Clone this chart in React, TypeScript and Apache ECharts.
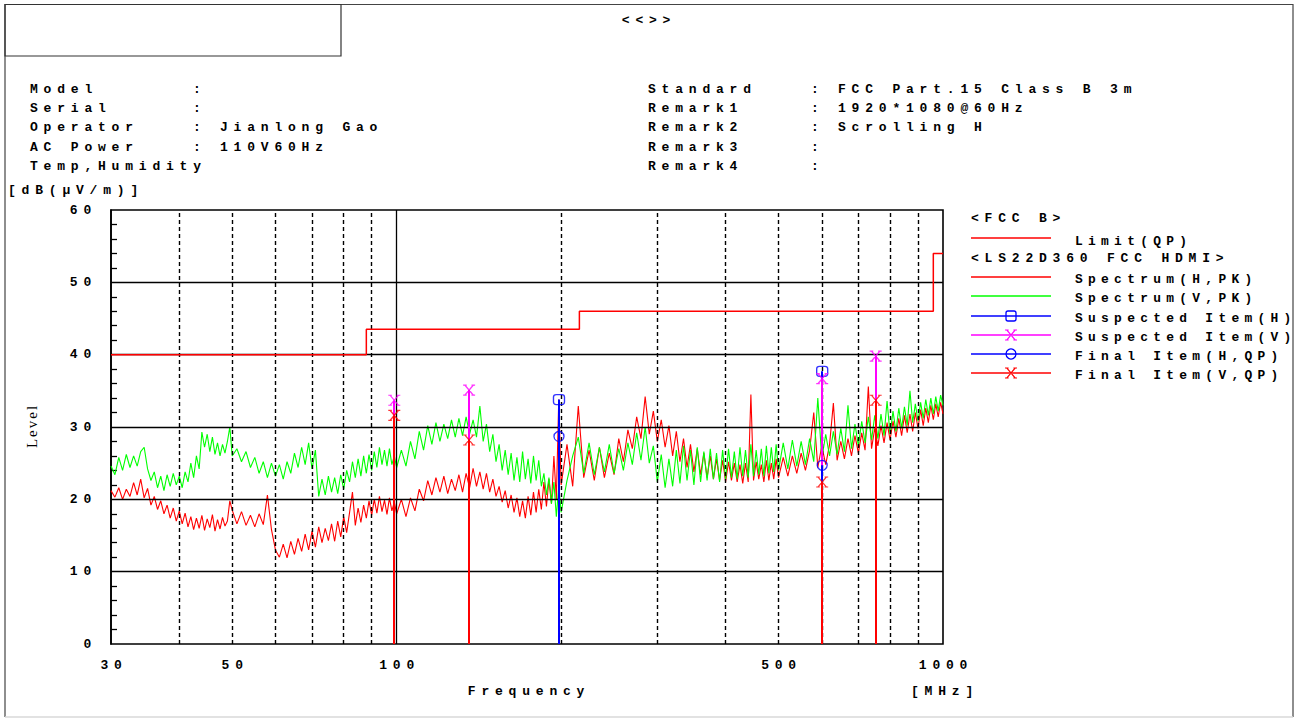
import { useEffect, useRef } from "react";
import * as echarts from "echarts";

// ---------------- data ----------------
const freqs = [
  30, 30.5, 31, 31.5, 32, 32.5, 33, 33.5, 34, 34.5,
  35, 35.5, 36, 36.5, 37, 37.5, 38, 38.5, 39, 39.5,
  40, 40.5, 41, 41.5, 42, 42.5, 43, 43.5, 44, 44.5,
  45, 45.5, 46, 46.5, 47, 47.5, 48, 48.5, 49, 49.5,
  50, 51, 52, 53, 54, 55, 56, 57, 58, 59,
  60, 61, 62, 63, 64, 65, 66, 67, 68, 69,
  70, 71, 72, 73, 74, 75, 76, 77, 78, 79,
  80, 81, 82, 83, 84, 85, 86, 87, 88, 89,
  90, 91, 92, 93, 94, 95, 96, 97, 98, 99,
  100, 102, 104, 106, 108, 110, 112, 114, 116, 118,
  120, 122, 124, 126, 128, 130, 132, 134, 136, 138,
  140, 142, 144, 146, 148, 150, 152, 154, 156, 158,
  160, 162, 164, 166, 168, 170, 172, 174, 176, 178,
  180, 182, 184, 186, 188, 190, 192, 194, 196, 198,
  200, 205, 210, 215, 220, 225, 230, 235, 240, 245,
  250, 255, 260, 265, 270, 275, 280, 285, 290, 295,
  300, 305, 310, 315, 320, 325, 330, 335, 340, 345,
  350, 355, 360, 365, 370, 375, 380, 385, 390, 395,
  400, 405, 410, 415, 420, 425, 430, 435, 440, 445,
  450, 455, 460, 465, 470, 475, 480, 485, 490, 495,
  500, 510, 520, 530, 540, 550, 560, 570, 580, 590,
  600, 610, 620, 630, 640, 650, 660, 670, 680, 690,
  700, 710, 720, 730, 740, 750, 760, 770, 780, 790,
  800, 810, 820, 830, 840, 850, 860, 870, 880, 890,
  900, 910, 920, 930, 940, 950, 960, 970, 980, 990,
  1000,
];

// Spectrum (H, PK) – red
const spectrumH = [
  21.2, 20.3, 21.6, 20.0, 21.4, 20.4, 22.3, 20.6, 22.8, 20.2,
  21.5, 19.2, 20.4, 18.6, 19.8, 18.0, 19.2, 17.4, 18.8, 17.0,
  18.4, 16.6, 18.1, 16.2, 17.6, 15.8, 17.4, 16.0, 17.8, 15.7,
  17.3, 16.1, 17.9, 15.6, 17.2, 15.9, 17.5, 16.3, 17.0, 19.8,
  18.5, 16.6, 18.3, 16.4, 17.8, 16.2, 18.0, 16.5, 20.6, 15.8,
  13.0, 12.0, 13.8, 11.9, 14.2, 12.4, 14.6, 12.8, 15.2, 13.0,
  15.6, 13.4, 16.2, 14.0, 16.0, 14.3, 16.6, 14.2, 17.0, 14.8,
  17.6, 15.4, 18.2, 21.0, 16.4, 18.8, 16.8, 19.2, 17.4, 19.8,
  17.8, 20.0, 18.1, 20.4, 18.3, 19.9, 17.9, 20.2, 18.4, 19.6,
  18.0, 20.0, 17.6, 20.2, 18.4, 21.4, 19.8, 22.6, 20.6, 23.0,
  21.0, 23.2, 20.8, 22.8, 21.2, 23.4, 21.0, 23.6, 21.6, 24.3,
  21.8, 23.8, 21.4, 23.6, 21.0, 22.8, 20.4, 21.8, 19.6, 21.2,
  18.8, 20.6, 18.2, 20.2, 17.6, 19.8, 17.4, 20.4, 17.8, 21.0,
  18.2, 21.4, 18.6, 22.4, 19.0, 22.8, 19.4, 26.0, 20.0, 33.8,
  22.0, 27.6, 21.8, 32.9, 23.0, 26.8, 22.6, 27.2, 23.0, 26.4,
  23.4, 28.4, 25.2, 29.6, 27.0, 31.4, 28.4, 34.2, 29.0, 32.2,
  28.0, 31.0, 27.2, 30.2, 26.0, 29.4, 25.2, 28.4, 24.4, 27.6,
  23.8, 27.0, 23.4, 26.4, 23.0, 26.0, 22.8, 25.6, 22.6, 25.4,
  22.4, 25.2, 22.6, 25.0, 22.4, 24.8, 22.2, 25.0, 22.4, 34.5,
  22.6, 25.2, 22.8, 24.8, 22.4, 25.4, 22.6, 25.0, 22.8, 25.6,
  23.0, 25.8, 23.2, 26.0, 23.6, 26.4, 24.0, 26.8, 32.0, 24.4,
  27.4, 24.8, 27.6, 33.3, 25.4, 28.0, 25.6, 28.4, 26.0, 28.8,
  26.4, 29.2, 26.8, 35.6, 27.0, 29.8, 27.4, 30.2, 27.8, 30.6,
  28.2, 30.8, 28.6, 31.2, 28.8, 31.6, 29.2, 31.8, 29.4, 32.0,
  29.8, 32.4, 30.2, 32.6, 30.6, 33.0, 31.0, 33.2, 31.4, 33.4,
  31.8,
];

// Spectrum (V, PK) – green
const spectrumV = [
  24.6, 23.4, 25.8, 24.0, 26.2, 24.4, 26.0, 24.6, 26.6, 27.2,
  24.2, 22.6, 23.8, 21.6, 23.2, 21.2, 23.4, 21.8, 23.6, 22.0,
  23.2, 21.6, 23.8, 22.4, 25.0, 23.0, 26.0, 24.2, 29.3, 27.2,
  29.0, 26.6, 28.6, 26.2, 27.8, 26.0, 27.6, 26.4, 28.0, 30.0,
  26.0, 27.0, 25.2, 26.6, 24.4, 25.8, 23.6, 25.2, 23.0, 25.0,
  23.2, 24.8, 22.8, 25.2, 23.6, 26.4, 24.4, 27.2, 24.8, 27.8,
  24.2, 26.8, 20.4, 22.8, 20.6, 23.2, 21.0, 23.0, 20.8, 23.4,
  21.4, 24.0, 22.4, 25.2, 23.0, 25.6, 23.2, 26.0, 23.6, 26.2,
  24.0, 26.6, 24.4, 27.2, 24.8, 26.8, 24.6, 27.0, 24.8, 26.0,
  24.4, 26.8, 24.6, 28.0, 25.6, 29.4, 26.8, 30.2, 27.6, 30.6,
  28.0, 30.4, 28.4, 31.0, 28.6, 31.2, 28.8, 31.4, 29.0, 31.0,
  28.6, 32.9, 28.0, 30.4, 26.6, 29.0, 25.2, 27.6, 24.0, 26.8,
  23.4, 26.4, 22.6, 25.8, 22.4, 26.6, 22.8, 25.6, 22.2, 26.0,
  22.6, 25.4, 21.8, 23.6, 20.6, 23.0, 19.4, 22.4, 17.6, 21.8,
  18.2, 22.6, 26.0, 28.6, 23.6, 27.8, 23.4, 27.2, 23.8, 27.6,
  23.6, 27.0, 24.0, 27.8, 24.8, 29.2, 25.4, 30.0, 25.0, 27.4,
  22.4, 26.2, 21.6, 25.6, 21.8, 26.8, 22.2, 27.4, 22.6, 26.8,
  22.0, 27.2, 22.4, 26.6, 22.6, 27.0, 22.8, 26.4, 22.4, 26.8,
  22.8, 27.0, 23.0, 26.6, 22.8, 27.2, 23.2, 26.8, 23.0, 27.6,
  23.2, 26.8, 23.4, 27.0, 23.2, 27.4, 23.6, 27.2, 23.8, 27.6,
  24.0, 27.8, 24.2, 28.2, 24.6, 28.0, 24.8, 28.4, 25.2, 34.0,
  25.6, 29.0, 26.0, 29.4, 26.2, 29.8, 26.6, 33.0, 27.0, 30.4,
  27.4, 30.8, 27.8, 31.4, 28.2, 31.6, 28.4, 31.8, 28.8, 33.6,
  29.0, 32.2, 29.4, 32.6, 29.8, 32.8, 30.2, 35.0, 30.6, 33.2,
  30.8, 33.4, 31.2, 33.8, 31.6, 34.0, 31.8, 34.2, 32.2, 34.4,
  33.0,
];

// FCC Class B limit (QP) segments
const limitStart = [30, 88, 216, 960];
const limitEnd = [88, 216, 960, 1000];
const limitLevel = [40, 43.5, 46, 54];

// items [MHz, dB(uV/m)]
const suspectedH = [[198.2, 33.8], [601, 37.7]];
const suspectedV = [[99, 33.7], [135.7, 35.1], [601, 36.7], [753, 39.8]];
const finalH = [[198.2, 28.7], [601, 24.7]];
const finalV = [[99, 31.6], [135.7, 28.2], [601, 22.4], [753, 33.7]];

// axes
const xTickValues = [30, 50, 100, 500, 1000];
const xDashedGrid = [40, 50, 60, 70, 80, 90, 200, 300, 400, 500, 600, 700, 800, 900];
const xSolidGrid = [100];
const yGrid = [10, 20, 30, 40, 50];

// header info
const infoLeft = [
  ["Model", ""],
  ["Serial", ""],
  ["Operator", "Jianlong Gao"],
  ["AC Power", "110V60Hz"],
];
const infoLeftLast = "Temp,Humidity";
const infoRight = [
  ["Standard", "FCC Part.15 Class B 3m"],
  ["Remark1", "1920*1080@60Hz"],
  ["Remark2", "Scrolling H"],
  ["Remark3", ""],
  ["Remark4", ""],
];

// ---------------- styling ----------------
const FONT = '"Liberation Mono", "DejaVu Sans Mono", monospace';
const RED = "#ff0000";
const GREEN = "#00ff00";
const BLUE = "#0000ff";
const MAGENTA = "#ff00ff";
const XPATH = "M0,0H3M7,0H10M0,10H3M7,10H10M1.5,0L8.5,10M8.5,0L1.5,10";
let registered = false;

function txt(text: string, x: number, y: number, align = "left", extra: any = {}) {
  return {
    type: "text",
    silent: true,
    z: 50,
    style: {
      text,
      x,
      y,
      fontFamily: FONT,
      fontWeight: "bold",
      fontSize: 13,
      fill: "#000",
      align,
      textAlign: align,
      verticalAlign: "middle",
      textVerticalAlign: "middle",
      ...extra,
    },
  };
}

export default function App() {
  const ref = useRef<HTMLDivElement>(null);

  useEffect(() => {
    if (!registered) {
      echarts.graphic.registerShape("xmark", echarts.graphic.extendPath(XPATH, {}) as any);
      registered = true;
    }
    const chart = echarts.init(ref.current!, null, { renderer: "svg", width: 1300, height: 720 });

    const limitData: number[][] = [];
    limitStart.forEach((s, i) => {
      limitData.push([s, limitLevel[i]], [limitEnd[i], limitLevel[i]]);
    });
    const hData = freqs.map((f, i) => [f, spectrumH[i]]);
    const vData = freqs.map((f, i) => [f, spectrumV[i]]);

    const dropSeries = (items: number[][], color: string, z: number) => ({
      type: "custom",
      silent: true,
      z,
      data: items,
      encode: { x: 0, y: 1 },
      renderItem: (_p: any, api: any) => {
        const top = api.coord([api.value(0), api.value(1)]);
        const bottom = api.coord([api.value(0), 0]);
        const x = Math.round(top[0]);
        return {
          type: "line",
          shape: { x1: x, y1: top[1], x2: x, y2: bottom[1] },
          style: { stroke: color, lineWidth: 2 },
        };
      },
    });

    const markerSeries = (name: string, items: number[][], color: string, symbol: string, size: any, z: number) => ({
      type: "scatter",
      name,
      data: items,
      symbol,
      symbolSize: size,
      z,
      silent: true,
      itemStyle: { color: "transparent", borderColor: color, borderWidth: 1.3 },
    });

    const option: any = {
      animation: false,
      backgroundColor: "#fff",
      grid: {
        left: 111,
        top: 210,
        width: 832,
        height: 434,
        show: true,
        borderColor: "#000",
        borderWidth: 1.6,
        backgroundColor: "transparent",
      },
      xAxis: {
        type: "log",
        logBase: 10,
        min: 30,
        max: 1000,
        axisLine: { show: false },
        axisTick: { show: false },
        axisLabel: { show: false },
        splitLine: { show: false },
      },
      yAxis: {
        type: "value",
        min: 0,
        max: 60,
        interval: 10,
        axisLine: { show: true, lineStyle: { color: "#000", width: 1.6 } },
        axisTick: { show: false, inside: true },
        minorTick: { show: true, splitNumber: 5, length: 6, lineStyle: { color: "#000", width: 1.3 } },
        axisLabel: { fontFamily: FONT, fontWeight: "bold", fontSize: 13, color: "#000", margin: 14 },
        splitLine: { show: false },
      },
      series: [
        {
          type: "line",
          name: "Limit(QP)",
          data: limitData,
          symbol: "none",
          silent: true,
          z: 5,
          lineStyle: { color: RED, width: 1.5 },
          markLine: {
            silent: true,
            z: 4,
            symbol: ["none", "none"],
            label: { show: false },
            data: [
              ...xDashedGrid.map((v) => ({ xAxis: v, lineStyle: { color: "#000", width: 1.4, type: [4, 3] } })),
              ...xSolidGrid.map((v) => ({ xAxis: v, lineStyle: { color: "#000", width: 1.3, type: "solid" } })),
              ...yGrid.map((v) => ({ yAxis: v, lineStyle: { color: "#000", width: 1.3, type: "solid" } })),
            ],
          },
        },
        {
          type: "line",
          name: "Spectrum(H,PK)",
          data: hData,
          symbol: "none",
          silent: true,
          z: 2,
          lineStyle: { color: RED, width: 1.1 },
        },
        {
          type: "line",
          name: "Spectrum(V,PK)",
          data: vData,
          symbol: "none",
          silent: true,
          z: 2,
          lineStyle: { color: GREEN, width: 1.1 },
        },
        dropSeries(suspectedH, BLUE, 6),
        dropSeries(suspectedV, MAGENTA, 7),
        dropSeries(finalH, BLUE, 8),
        dropSeries(finalV, RED, 9),
        markerSeries("Suspected Item(H)", suspectedH, BLUE, "roundRect", [11, 10], 12),
        markerSeries("Suspected Item(V)", suspectedV, MAGENTA, "path://" + XPATH, [12, 10], 13),
        markerSeries("Final Item(H,QP)", finalH, BLUE, "circle", 10, 14),
        markerSeries("Final Item(V,QP)", finalV, RED, "path://" + XPATH, [12, 10], 15),
      ],
    };
    chart.setOption(option);

    const g: any[] = [];
    // page frame
    g.push({
      type: "polyline",
      silent: true,
      shape: { points: [[5, 717], [5, 4.5], [1293, 4.5], [1293, 717]] },
      style: { stroke: "#444", lineWidth: 1.2, fill: "none" },
    });
    g.push({ type: "line", silent: true, shape: { x1: 5, y1: 717, x2: 1293, y2: 717 }, style: { stroke: "#d8d8d8", lineWidth: 1.5 } });
    g.push({ type: "rect", silent: true, shape: { x: 5, y: 4.5, width: 336, height: 51.5 }, style: { stroke: "#333", lineWidth: 1.2, fill: "none" } });
    g.push(txt("<<>>", 649, 20, "center"));

    // header info
    const rowY = [89, 108, 127, 147, 166];
    infoLeft.forEach(([k, v], i) => {
      g.push(txt(k, 30, rowY[i]));
      g.push(txt(":", 193, rowY[i]));
      if (v) g.push(txt(v, 220, rowY[i]));
    });
    g.push(txt(infoLeftLast, 30, rowY[4]));
    infoRight.forEach(([k, v], i) => {
      g.push(txt(k, 648, rowY[i]));
      g.push(txt(":", 811, rowY[i]));
      if (v) g.push(txt(v, 838, rowY[i]));
    });

    // axis captions
    g.push(txt("[dB(μV/m)]", 8, 190));
    g.push({
      type: "text",
      silent: true,
      x: 32,
      y: 426,
      rotation: Math.PI / 2,
      style: {
        text: "Level",
        x: 0,
        y: 0,
        fontFamily: '"Liberation Serif", "DejaVu Serif", serif',
        fontSize: 15,
        fill: "#000",
        align: "center",
        textAlign: "center",
        verticalAlign: "middle",
        textVerticalAlign: "middle",
      },
    });
    xTickValues.forEach((f) => {
      const px = chart.convertToPixel({ xAxisIndex: 0 } as any, f) as number;
      g.push(txt(String(f), px + 3, 665, "center"));
    });
    g.push(txt("Frequency", 529, 691, "center"));
    g.push(txt("[MHz]", 945, 691, "center"));

    // legend
    const lx1 = 971;
    const lx2 = 1051;
    const lmx = 1011;
    const ltx = 1075;
    const legendText = (s: string, y: number) => txt(s, ltx, y, "left", { fontSize: 12.9 });
    g.push(txt("<FCC B>", 971, 218));
    g.push({ type: "line", silent: true, shape: { x1: lx1, y1: 238, x2: lx2, y2: 238 }, style: { stroke: RED, lineWidth: 1.5 } });
    g.push(legendText("Limit(QP)", 241));
    g.push(txt("<LS22D360 FCC HDMI>", 971, 258));
    const legendRows: any[] = [
      { name: "Spectrum(H,PK)", color: RED, y: 277, mark: null },
      { name: "Spectrum(V,PK)", color: GREEN, y: 296, mark: null },
      { name: "Suspected Item(H)", color: BLUE, y: 316, mark: "rect" },
      { name: "Suspected Item(V)", color: MAGENTA, y: 335, mark: "x" },
      { name: "Final Item(H,QP)", color: BLUE, y: 354, mark: "circle" },
      { name: "Final Item(V,QP)", color: RED, y: 373, mark: "x" },
    ];
    legendRows.forEach((r) => {
      g.push({ type: "line", silent: true, shape: { x1: lx1, y1: r.y, x2: lx2, y2: r.y }, style: { stroke: r.color, lineWidth: 1.5 } });
      if (r.mark === "rect") {
        g.push({ type: "rect", silent: true, shape: { x: lmx - 5, y: r.y - 5, width: 10, height: 10, r: 2 }, style: { stroke: r.color, fill: "none", lineWidth: 1.3 } });
      } else if (r.mark === "circle") {
        g.push({ type: "circle", silent: true, shape: { cx: lmx, cy: r.y, r: 5 }, style: { stroke: r.color, fill: "none", lineWidth: 1.3 } });
      } else if (r.mark === "x") {
        g.push({ type: "xmark", silent: true, x: lmx - 6, y: r.y - 5, scaleX: 1.2, scaleY: 1, style: { stroke: r.color, fill: "none", lineWidth: 1.2 } });
      }
      g.push(legendText(r.name, r.y + 2));
    });

    chart.setOption({ graphic: g });

    return () => {
      chart.dispose();
    };
  }, []);

  return (
    <>
      <style>{`body{margin:0;background:#fff}.emc-chart text{letter-spacing:5.8px}.emc-chart text[style*="Serif"]{letter-spacing:2px}.emc-chart text[style*="12.9px"]{letter-spacing:5.3px}`}</style>
      <div
        ref={ref}
        className="emc-chart"
        style={{ position: "fixed", left: 0, top: 0, width: 1300, height: 720, background: "#fff" }}
      />
    </>
  );
}
